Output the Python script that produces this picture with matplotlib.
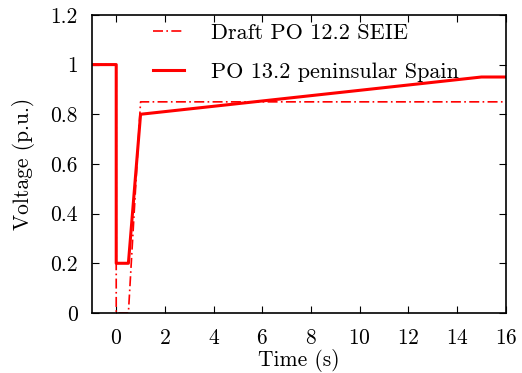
import matplotlib
matplotlib.use('Agg')
import matplotlib.pyplot as plt

# Voltage dip profiles (time in s, voltage in p.u.)
seie_t = [-1, 0, 0, 0.5, 1, 16]
seie_v = [1, 1, 0, 0, 0.85, 0.85]
spain_t = [-1, 0, 0, 0.5, 1, 15, 16]
spain_v = [1, 1, 0.2, 0.2, 0.8, 0.95, 0.95]

xticks = [0, 2, 4, 6, 8, 10, 12, 14, 16]
yticks = [0, 0.2, 0.4, 0.6, 0.8, 1, 1.2]
yticklabels = ['0', '0.2', '0.4', '0.6', '0.8', '1', '1.2']

plt.rcParams['font.family'] = 'serif'
plt.rcParams['font.serif'] = ['cmr10']
plt.rcParams['mathtext.fontset'] = 'cm'
plt.rcParams['axes.formatter.use_mathtext'] = True

figure = plt.figure(figsize=(5.22, 3.73), dpi=100)
axes = figure.add_axes([0.176, 0.161, 0.793, 0.799])

axes.plot(seie_t, seie_v, color='red', linestyle=(0, (6, 2, 1, 2)), linewidth=1.2,
          label='Draft PO 12.2 SEIE')
axes.plot(spain_t, spain_v, color='red', linestyle='-', linewidth=2.2,
          label='PO 13.2 peninsular Spain')

axes.set_xlim(-1, 16)
axes.set_ylim(0, 1.2)
axes.set_xticks(xticks)
axes.set_yticks(yticks)
axes.set_yticklabels(yticklabels)
axes.tick_params(direction='in', top=True, right=True, labelsize=15.5, length=5)
axes.tick_params(axis='x', pad=11)
axes.tick_params(axis='y', pad=10)
for spine in axes.spines.values():
    spine.set_linewidth(1.2)

axes.set_xlabel('Time (s)', fontsize=15.5, labelpad=1)
axes.set_ylabel('Voltage (p.u.)', fontsize=15.5, labelpad=11)

axes.legend(loc='upper left', bbox_to_anchor=(0.1, 1.04), frameon=False,
            fontsize=16, handlelength=1.4, handletextpad=1.2, labelspacing=0.9)

figure.savefig('out.png', dpi=100)
